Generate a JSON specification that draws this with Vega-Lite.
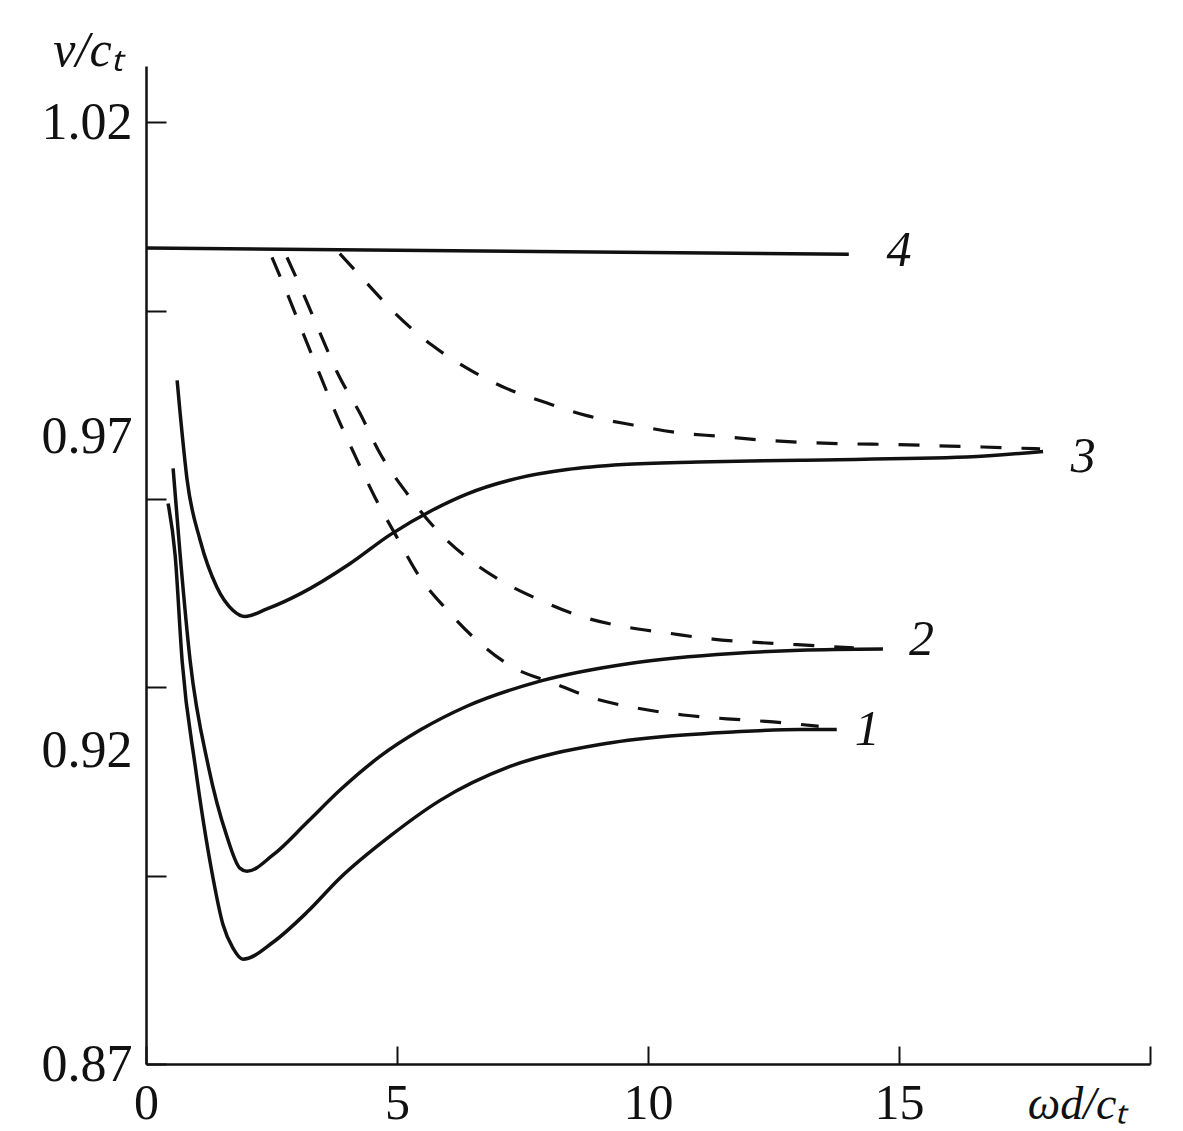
{
  "$schema": "https://vega.github.io/schema/vega-lite/v6.json",
  "autosize": {"type": "none"},
  "width": 1004,
  "height": 998,
  "padding": {"left": 146, "top": 66, "right": 33, "bottom": 67},
  "background": "white",
  "config": {"view": {"stroke": null}, "font": "Liberation Serif"},
  "datasets": {
    "solid": [
      {"curve": "4", "x": 0.0, "y": 1.0},
      {"curve": "4", "x": 14.0, "y": 0.999},

      {"curve": "3", "x": 0.62, "y": 0.9789},
      {"curve": "3", "x": 0.68, "y": 0.9737},
      {"curve": "3", "x": 0.82, "y": 0.963},
      {"curve": "3", "x": 1.08, "y": 0.9534},
      {"curve": "3", "x": 1.41, "y": 0.946},
      {"curve": "3", "x": 1.73, "y": 0.9423},
      {"curve": "3", "x": 1.97, "y": 0.9413},
      {"curve": "3", "x": 2.41, "y": 0.9425},
      {"curve": "3", "x": 3.07, "y": 0.9449},
      {"curve": "3", "x": 4.06, "y": 0.9497},
      {"curve": "3", "x": 4.86, "y": 0.9543},
      {"curve": "3", "x": 5.72, "y": 0.9583},
      {"curve": "3", "x": 6.39, "y": 0.9608},
      {"curve": "3", "x": 7.39, "y": 0.9633},
      {"curve": "3", "x": 8.39, "y": 0.9647},
      {"curve": "3", "x": 9.5, "y": 0.9655},
      {"curve": "3", "x": 11.0, "y": 0.9659},
      {"curve": "3", "x": 13.03, "y": 0.9662},
      {"curve": "3", "x": 16.35, "y": 0.9667},
      {"curve": "3", "x": 17.87, "y": 0.9676},

      {"curve": "2", "x": 0.54, "y": 0.9649},
      {"curve": "2", "x": 0.68, "y": 0.9511},
      {"curve": "2", "x": 0.88, "y": 0.9342},
      {"curve": "2", "x": 1.24, "y": 0.9175},
      {"curve": "2", "x": 1.61, "y": 0.9063},
      {"curve": "2", "x": 1.87, "y": 0.9012},
      {"curve": "2", "x": 2.01, "y": 0.9007},
      {"curve": "2", "x": 2.53, "y": 0.9033},
      {"curve": "2", "x": 3.21, "y": 0.9085},
      {"curve": "2", "x": 3.86, "y": 0.9136},
      {"curve": "2", "x": 4.66, "y": 0.919},
      {"curve": "2", "x": 5.46, "y": 0.9232},
      {"curve": "2", "x": 6.39, "y": 0.927},
      {"curve": "2", "x": 7.85, "y": 0.931},
      {"curve": "2", "x": 9.7, "y": 0.9339},
      {"curve": "2", "x": 11.69, "y": 0.9354},
      {"curve": "2", "x": 13.03, "y": 0.9359},
      {"curve": "2", "x": 14.68, "y": 0.9361},

      {"curve": "1", "x": 0.44, "y": 0.9593},
      {"curve": "1", "x": 0.58, "y": 0.9511},
      {"curve": "1", "x": 0.72, "y": 0.9342},
      {"curve": "1", "x": 0.98, "y": 0.9175},
      {"curve": "1", "x": 1.31, "y": 0.9007},
      {"curve": "1", "x": 1.53, "y": 0.8923},
      {"curve": "1", "x": 1.73, "y": 0.8885},
      {"curve": "1", "x": 1.93, "y": 0.8867},
      {"curve": "1", "x": 2.53, "y": 0.8894},
      {"curve": "1", "x": 3.21, "y": 0.8942},
      {"curve": "1", "x": 3.86, "y": 0.8996},
      {"curve": "1", "x": 4.86, "y": 0.9063},
      {"curve": "1", "x": 5.86, "y": 0.912},
      {"curve": "1", "x": 7.25, "y": 0.9174},
      {"curve": "1", "x": 9.04, "y": 0.9209},
      {"curve": "1", "x": 10.38, "y": 0.9222},
      {"curve": "1", "x": 11.69, "y": 0.9229},
      {"curve": "1", "x": 13.03, "y": 0.9233},
      {"curve": "1", "x": 13.76, "y": 0.9233}
    ],
    "dashed": [
      {"curve": "3", "x": 3.86, "y": 0.9991},
      {"curve": "3", "x": 4.4, "y": 0.9944},
      {"curve": "3", "x": 5.0, "y": 0.9893},
      {"curve": "3", "x": 5.7, "y": 0.9845},
      {"curve": "3", "x": 6.41, "y": 0.9808},
      {"curve": "3", "x": 7.19, "y": 0.9776},
      {"curve": "3", "x": 7.99, "y": 0.9753},
      {"curve": "3", "x": 8.78, "y": 0.9733},
      {"curve": "3", "x": 9.7, "y": 0.9718},
      {"curve": "3", "x": 10.58, "y": 0.9706},
      {"curve": "3", "x": 11.43, "y": 0.97},
      {"curve": "3", "x": 12.29, "y": 0.9694},
      {"curve": "3", "x": 13.17, "y": 0.969},
      {"curve": "3", "x": 14.02, "y": 0.9688},
      {"curve": "3", "x": 14.88, "y": 0.9687},
      {"curve": "3", "x": 15.76, "y": 0.9685},
      {"curve": "3", "x": 16.67, "y": 0.9683},
      {"curve": "3", "x": 17.81, "y": 0.968},

      {"curve": "2", "x": 2.81, "y": 0.9985},
      {"curve": "2", "x": 3.13, "y": 0.9928},
      {"curve": "2", "x": 3.47, "y": 0.9864},
      {"curve": "2", "x": 3.82, "y": 0.98},
      {"curve": "2", "x": 4.26, "y": 0.9737},
      {"curve": "2", "x": 4.66, "y": 0.9673},
      {"curve": "2", "x": 5.2, "y": 0.9609},
      {"curve": "2", "x": 5.8, "y": 0.955},
      {"curve": "2", "x": 6.39, "y": 0.9507},
      {"curve": "2", "x": 7.05, "y": 0.9471},
      {"curve": "2", "x": 7.85, "y": 0.9439},
      {"curve": "2", "x": 8.71, "y": 0.9412},
      {"curve": "2", "x": 9.58, "y": 0.9396},
      {"curve": "2", "x": 10.44, "y": 0.9386},
      {"curve": "2", "x": 11.29, "y": 0.9377},
      {"curve": "2", "x": 12.09, "y": 0.9372},
      {"curve": "2", "x": 12.97, "y": 0.9368},
      {"curve": "2", "x": 14.1, "y": 0.9363},

      {"curve": "1", "x": 2.51, "y": 0.9985},
      {"curve": "1", "x": 2.81, "y": 0.9928},
      {"curve": "1", "x": 3.13, "y": 0.9864},
      {"curve": "1", "x": 3.47, "y": 0.9797},
      {"curve": "1", "x": 3.8, "y": 0.9733},
      {"curve": "1", "x": 4.16, "y": 0.967},
      {"curve": "1", "x": 4.56, "y": 0.9603},
      {"curve": "1", "x": 5.0, "y": 0.9539},
      {"curve": "1", "x": 5.46, "y": 0.9475},
      {"curve": "1", "x": 6.0, "y": 0.9423},
      {"curve": "1", "x": 6.59, "y": 0.9375},
      {"curve": "1", "x": 7.31, "y": 0.9332},
      {"curve": "1", "x": 8.11, "y": 0.9307},
      {"curve": "1", "x": 8.9, "y": 0.9283},
      {"curve": "1", "x": 9.78, "y": 0.9267},
      {"curve": "1", "x": 10.7, "y": 0.9256},
      {"curve": "1", "x": 11.57, "y": 0.925},
      {"curve": "1", "x": 12.49, "y": 0.9245},
      {"curve": "1", "x": 13.4, "y": 0.9238}
    ],
    "labels": [
      {"label": "4", "x": 15.0, "y": 0.9995},
      {"label": "3", "x": 18.67, "y": 0.9667},
      {"label": "2", "x": 15.45, "y": 0.9375},
      {"label": "1", "x": 14.37, "y": 0.9232}
    ]
  },
  "encoding": {
    "x": {
      "field": "x", "type": "quantitative",
      "scale": {"domain": [0, 20], "nice": false, "zero": false},
      "axis": {
        "values": [0, 5, 10, 15, 20],
        "tickSize": -18,
        "tickWidth": 2,
        "tickColor": "#111",
        "domainColor": "#111",
        "domainWidth": 2.5,
        "grid": false,
        "labelFont": "Liberation Serif",
        "labelFontSize": 50,
        "labelColor": "#111",
        "labelPadding": 32,
        "labelExpr": "datum.value == 20 ? '' : datum.label",
        "labelFlush": false,
        "title": "ωd/cₜ",
        "titleFont": "Liberation Serif",
        "titleFontStyle": "italic",
        "titleFontWeight": "normal",
        "titleFontSize": 46,
        "titleColor": "#111",
        "titleX": 931,
        "titleY": 40,
        "titleAnchor": null,
        "titleAlign": "center",
        "titleBaseline": "middle"
      }
    },
    "y": {
      "field": "y", "type": "quantitative",
      "scale": {"domain": [0.87, 1.029], "nice": false, "zero": false},
      "axis": {
        "values": [0.87, 0.9, 0.92, 0.93, 0.96, 0.97, 0.99, 1.02],
        "tickSize": -20,
        "tickWidth": 2,
        "tickColor": "#111",
        "tickOpacity": {"condition": {"test": "datum.value == 0.92 || datum.value == 0.97", "value": 0}, "value": 1},
        "labelOpacity": {"condition": {"test": "datum.value == 0.87 || datum.value == 0.92 || datum.value == 0.97 || datum.value == 1.02", "value": 1}, "value": 0},
        "labelExpr": "format(datum.value, '.2f')",
        "domainColor": "#111",
        "domainWidth": 2.5,
        "grid": false,
        "labelFont": "Liberation Serif",
        "labelFontSize": 52,
        "labelColor": "#111",
        "labelPadding": 34,
        "labelFlush": false,
        "labelOverlap": false,
        "title": "v/cₜ",
        "titleFont": "Liberation Serif",
        "titleFontStyle": "italic",
        "titleFontWeight": "normal",
        "titleFontSize": 50,
        "titleColor": "#111",
        "titleAngle": 0,
        "titleX": -58,
        "titleY": -16,
        "titleAnchor": null,
        "titleAlign": "center",
        "titleBaseline": "middle"
      }
    }
  },
  "layer": [
    {
      "data": {"name": "solid"},
      "mark": {"type": "line", "interpolate": "monotone", "stroke": "#111", "strokeWidth": 3.5},
      "encoding": {"detail": {"field": "curve"}}
    },
    {
      "data": {"name": "dashed"},
      "mark": {"type": "line", "interpolate": "monotone", "stroke": "#111", "strokeWidth": 3.2, "strokeDash": [21, 20]},
      "encoding": {"detail": {"field": "curve"}}
    },
    {
      "data": {"name": "labels"},
      "mark": {"type": "text", "font": "Liberation Serif", "fontStyle": "italic", "fontSize": 50, "color": "#111", "align": "center", "baseline": "middle"},
      "encoding": {"text": {"field": "label"}}
    }
  ]
}
